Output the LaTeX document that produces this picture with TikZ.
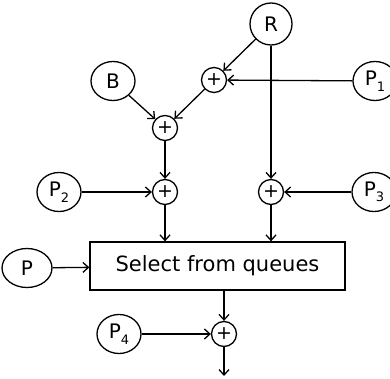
\documentclass[tikz,border=0pt]{standalone}
\usepackage{fontspec}
\setmainfont{DejaVu Sans}
\usetikzlibrary{arrows.meta,shapes.geometric}
\newcommand{\Psub}[1]{P\raisebox{-0.5ex}{\fontsize{13}{13}\selectfont #1}}

\begin{document}
\begin{tikzpicture}[x=1pt,y=1pt,yscale=-1,xscale=1,
  src/.style={draw, ellipse, line width=1.3pt, minimum width=44pt, minimum height=39pt, inner sep=0pt, font=\fontsize{20}{20}\selectfont},
  sum/.style={draw, circle, line width=1.3pt, minimum size=25pt, inner sep=0pt, font=\fontsize{19}{19}\selectfont},
  flow/.style={line width=1.3pt, -{Straight Barb[length=5.5pt,width=10pt]}}]
\useasboundingbox (0,0) rectangle (390,379);

%Sources
\node [src, minimum width=42pt, minimum height=42pt] (R) at (271,24) {R};
\node [src] (B) at (113,81) {B};
\node [src] (P1) at (375,81) {\Psub{1}};
\node [src] (P2) at (59,192) {\Psub{2}};
\node [src] (P3) at (374,192) {\Psub{3}};
\node [src, minimum width=50pt] (P) at (27,268) {P};
\node [src] (P4) at (119,334) {\Psub{4}};

%Summing points
\node [sum] (add1) at (214,80) {+};
\node [sum] (add2) at (165,128) {+};
\node [sum] (add3) at (165,192) {+};
\node [sum] (add4) at (271,192) {+};
\node [sum] (add5) at (224,334) {+};

%Queue selector
\node [draw, line width=1.3pt, minimum width=255pt, minimum height=48pt, inner sep=0pt, font=\fontsize{21}{21}\selectfont] (sel) at (217.5,266) {Select from queues};
\coordinate (out) at (224,376);

%Connectors
\draw [flow] (R) -- (add1);
\draw [flow] (P1) -- (add1);
\draw [flow] (R) -- (add4);
\draw [flow] (add1) -- (add2);
\draw [flow] (B) -- (add2);
\draw [flow] (add2) -- (add3);
\draw [flow] (P2) -- (add3);
\draw [flow] (P3) -- (add4);
\draw [flow] (add3) -- (add3 |- sel.north);
\draw [flow] (add4) -- (add4 |- sel.north);
\draw [flow] (P) -- (sel);
\draw [flow] (sel.south -| add5) -- (add5);
\draw [flow] (P4) -- (add5);
\draw [flow] (add5) -- (out);

\end{tikzpicture}
\end{document}
